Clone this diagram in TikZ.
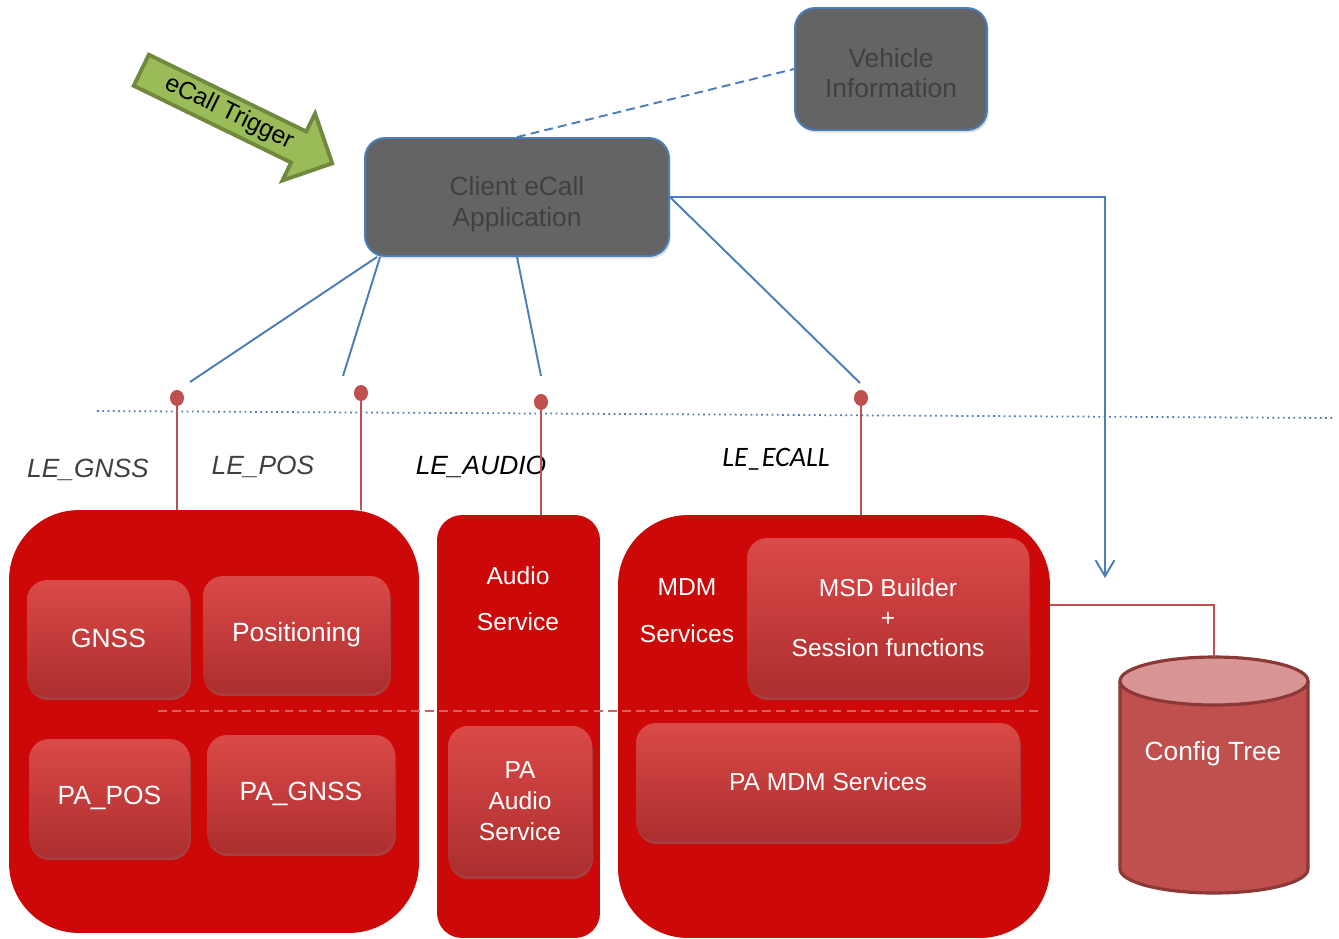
\documentclass[tikz,border=0pt]{standalone}
\usepackage{fontspec}
\setmainfont{Liberation Sans}
\newfontfamily\calfont{Carlito}
\usetikzlibrary{shapes.arrows,shapes.geometric,shadows,arrows.meta}

\definecolor{appgray}{RGB}{100,100,100}
\definecolor{apptext}{RGB}{64,64,64}
\definecolor{linkblue}{RGB}{74,126,187}
\definecolor{pinred}{RGB}{192,80,77}
\definecolor{boxred}{RGB}{204,8,8}
\definecolor{tiletop}{RGB}{218,74,72}
\definecolor{tilebot}{RGB}{172,46,46}
\definecolor{splitred}{RGB}{205,98,96}
\definecolor{trigfill}{RGB}{155,187,89}
\definecolor{trigdraw}{RGB}{113,137,63}
\definecolor{cfgbody}{RGB}{192,80,77}
\definecolor{cfgend}{RGB}{217,149,148}
\definecolor{cfgdraw}{RGB}{140,56,54}

\tikzset{
    appbox/.style={draw=linkblue, line width=1.1pt, fill=appgray, rounded corners=0.4cm,
        text=apptext, align=center, font=\fontsize{15}{17.6}\selectfont,
        drop shadow={opacity=0.25, shadow xshift=1pt, shadow yshift=-1.5pt}},
    redbox/.style={fill=boxred, inner sep=0pt},
    tile/.style={rounded corners=0.4cm, top color=tiletop, bottom color=tilebot,
        text=white, align=center, font=\fontsize{15}{17.6}\selectfont,
        drop shadow={opacity=0.45, shadow xshift=0.5pt, shadow yshift=-1.8pt}},
    boxtext/.style={text=white, align=center},
    pinhead/.style={ellipse, fill=pinred, inner sep=0pt, minimum width=0.28cm, minimum height=0.32cm},
    pinline/.style={draw=pinred, line width=1.1pt},
    bluelink/.style={draw=linkblue, line width=1.1pt},
    lelabel/.style={text=apptext, font=\itshape\fontsize{15}{18}\selectfont}
}

\begin{document}
\begin{tikzpicture}[x=0.02cm, y=-0.02cm]
    \useasboundingbox (0,0) rectangle (1339,938);

    % application layer
    \node[appbox, minimum width=3.84cm, minimum height=2.44cm] (vehicle) at (891,69) {\rule{0pt}{15.5pt}Vehicle\\Information};
    \node[appbox, minimum width=6.08cm, minimum height=2.36cm] (client) at (517,197) {\rule{0pt}{19pt}Client eCall\\Application};

    % trigger
    \node[single arrow, draw=trigdraw, line width=2.2pt, fill=trigfill, rotate=-26,
          minimum height=4.25cm, single arrow head extend=0.4cm, inner sep=2.2pt,
          font=\fontsize{14}{16}\selectfont] (trigger) at (229,113) {eCall Trigger};

    % API boundary
    \draw[linkblue, line width=1pt, dotted] (97,411) -- (1334,418);

    % labels
    \node[lelabel] (legnss) at (88,470) {LE\_GNSS};
    \node[lelabel] (lepos) at (263,467) {LE\_POS};
    \node[lelabel, text=black] (leaudio) at (481,467) {LE\_AUDIO};
    \node[lelabel, text=black, font=\calfont\itshape\fontsize{16}{19}\selectfont] (leecall) at (776,459) {LE\_ECALL};

    % service containers
    \node[redbox, rounded corners=1.4cm, minimum width=8.2cm, minimum height=8.46cm] (locbox) at (214,721.5) {};
    \node[redbox, rounded corners=0.5cm, minimum width=3.26cm, minimum height=8.46cm] (audiobox) at (518.5,726.5) {};
    \node[redbox, rounded corners=1.4cm, minimum width=8.64cm, minimum height=8.46cm] (mdmbox) at (834,726.5) {};

    \node[boxtext, font=\fontsize{14}{26.2}\selectfont] (audiotxt) at (518,599) {Audio\\Service};
    \node[boxtext, font=\fontsize{14}{26.7}\selectfont] (mdmtxt) at (687,610.5) {MDM\\Services};

    % platform split
    \draw[splitred, line width=1.1pt, dash pattern=on 5pt off 3pt] (158,711) -- (1040,711);

    % components
    \node[tile, minimum width=3.26cm, minimum height=2.34cm] (gnss) at (108.5,638.5) {GNSS};
    \node[tile, minimum width=3.74cm, minimum height=2.34cm] (positioning) at (296.5,634.5) {Positioning};
    \node[tile, minimum width=3.22cm, minimum height=2.36cm] (papos) at (109.5,798) {PA\_POS};
    \node[tile, minimum width=3.76cm, minimum height=2.36cm] (pagnss) at (301,794) {PA\_GNSS};
    \node[tile, minimum width=2.88cm, minimum height=3.0cm, font=\fontsize{14}{17.6}\selectfont] (paaudio) at (520,801) {PA\\Audio\\Service};
    \node[tile, minimum width=5.64cm, minimum height=3.18cm, font=\fontsize{14}{17}\selectfont] (msd) at (888,617.5) {MSD Builder\\+\\Session functions};
    \node[tile, minimum width=7.68cm, minimum height=2.36cm, font=\fontsize{14}{17}\selectfont] (pamdm) at (828,782) {PA MDM Services};

    % config tree
    \draw[cfgdraw, line width=1.8pt, fill=cfgbody] (1120,681) -- (1120,869)
        arc[start angle=180, end angle=360, x radius=1.88cm, y radius=0.48cm] -- (1308,681);
    \draw[cfgdraw, line width=1.8pt, fill=cfgend] (1214,681) ellipse[x radius=1.88cm, y radius=0.48cm];
    \coordinate (cfgtop) at (1214,657);
    \node[boxtext, font=\fontsize{15}{18}\selectfont] (cfgtxt) at (1213,754) {Config Tree};
    \draw[pinline] (mdmbox.east |- 0,605) -| (cfgtop);

    % pins
    \node[pinhead] (gnsspin) at (177,398) {};
    \node[pinhead] (pospin) at (361,393) {};
    \node[pinhead] (audiopin) at (541,402) {};
    \node[pinhead] (ecallpin) at (861,398) {};
    \draw[pinline] (gnsspin) -- (gnsspin |- locbox.north);
    \draw[pinline] (pospin) -- (pospin |- locbox.north);
    \draw[pinline] (audiopin) -- (audiopin |- audiobox.north);
    \draw[pinline] (ecallpin) -- (ecallpin |- mdmbox.north);

    % links
    \coordinate (gnssend) at (190,382);
    \coordinate (posend) at (343,376);
    \coordinate (audioend) at (541,376);
    \coordinate (ecallend) at (860,383);
    \coordinate (treeend) at (1105,578);
    \draw[bluelink, dash pattern=on 5pt off 3pt] (client.north) -- (vehicle.west);
    \draw[bluelink] ([xshift=0.26cm]client.south west) -- (gnssend);
    \draw[bluelink] ([xshift=0.32cm]client.south west) -- (posend);
    \draw[bluelink] (client.south) -- (audioend);
    \draw[bluelink] (client.east) -- (ecallend);
    \draw[bluelink, -{Straight Barb[length=0.32cm, width=0.38cm]}] (client.east) -| (treeend);
\end{tikzpicture}
\end{document}
